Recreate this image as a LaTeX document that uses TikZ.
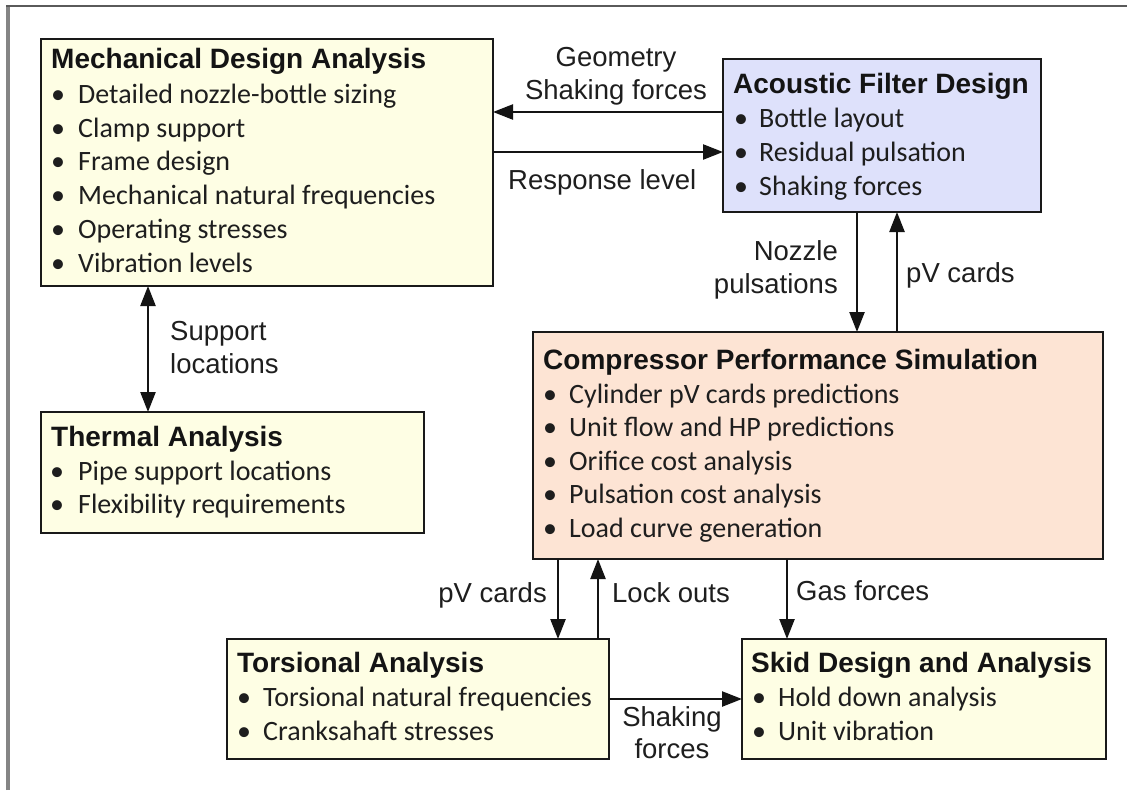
\documentclass[tikz,border=0pt]{standalone}
\usepackage{fontspec}
\setmainfont{Liberation Sans}
\newfontfamily\calib{Carlito}
\usetikzlibrary{arrows.meta}
\definecolor{yel}{HTML}{FEFEE4}
\definecolor{lav}{HTML}{DEE1FB}
\definecolor{peach}{HTML}{FDE4D4}
\definecolor{txt}{HTML}{1E1E1E}
\definecolor{frameL}{HTML}{858585}
\definecolor{frameT}{HTML}{5A5A5A}
\tikzset{
  box/.style={draw=black!90, line width=2.2pt, inner sep=0pt, outer sep=0pt, anchor=north west},
  ttl/.style={anchor=base west, inner sep=0pt, text=black!92, font=\fontsize{28}{34}\selectfont\bfseries},
  itm/.style={anchor=base west, inner sep=0pt, text=txt, font=\calib\fontsize{28}{34}\selectfont},
  dot/.style={anchor=base, inner sep=0pt, text=txt, font=\calib\fontsize{28}{34}\selectfont},
  lbl/.style={inner sep=0pt, text=txt, font=\fontsize{27.5}{33}\selectfont},
  arr/.style={line width=2.4pt, draw=black!92, -{Triangle[length=20pt,width=15pt]}},
  darr/.style={line width=2.4pt, draw=black!92, {Triangle[length=20pt,width=15pt]}-{Triangle[length=20pt,width=15pt]}},
}
\begin{document}
\begin{tikzpicture}[x=1pt,y=-1pt]
\useasboundingbox (0,0) rectangle (1127,790);
\fill[white] (0,0) rectangle (1127,790);
% page frame
\draw[frameL, line width=3.6pt] (8,790) -- (8,5);
\draw[frameT, line width=2pt] (6,6) -- (1127,6);

% ---------- Mechanical Design Analysis ----------
\node[box, fill=yel, minimum width=452pt, minimum height=247pt] (mech) at (41,39) {};
\node[ttl] (mechT) at (51,68) {Mechanical Design Analysis};
\node[dot] (mechD1) at (58,103) {•}; \node[itm] (mech1) at (78,103) {Detailed nozzle-bottle sizing};
\node[dot] (mechD2) at (58,137) {•}; \node[itm] (mech2) at (78,137) {Clamp support};
\node[dot] (mechD3) at (58,170.5) {•}; \node[itm] (mech3) at (78,170.5) {Frame design};
\node[dot] (mechD4) at (58,204.5) {•}; \node[itm] (mech4) at (78,204.5) {Mechanical natural frequencies};
\node[dot] (mechD5) at (58,238) {•}; \node[itm] (mech5) at (78,238) {Operating stresses};
\node[dot] (mechD6) at (58,272) {•}; \node[itm] (mech6) at (78,272) {Vibration levels};

% ---------- Acoustic Filter Design ----------
\node[box, fill=lav, minimum width=318pt, minimum height=153pt] (acou) at (723,59) {};
\node[ttl] (acouT) at (733,93) {Acoustic Filter Design};
\node[dot] (acouD1) at (741,127) {•}; \node[itm] (acou1) at (759,127) {Bottle layout};
\node[dot] (acouD2) at (741,161) {•}; \node[itm] (acou2) at (759,161) {Residual pulsation};
\node[dot] (acouD3) at (741,195) {•}; \node[itm] (acou3) at (759,195) {Shaking forces};

% ---------- Thermal Analysis ----------
\node[box, fill=yel, minimum width=383pt, minimum height=121pt] (therm) at (41,412) {};
\node[ttl] (thermT) at (51,446) {Thermal Analysis};
\node[dot] (thermD1) at (57,480) {•}; \node[itm] (therm1) at (78,480) {Pipe support locations};
\node[dot] (thermD2) at (57,513.5) {•}; \node[itm] (therm2) at (78,513.5) {Flexibility requirements};

% ---------- Compressor Performance Simulation ----------
\node[box, fill=peach, minimum width=570pt, minimum height=227pt] (comp) at (533,332) {};
\node[ttl] (compT) at (543,369) {Compressor Performance Simulation};
\node[dot] (compD1) at (550,403) {•}; \node[itm] (comp1) at (569,403) {Cylinder pV cards predictions};
\node[dot] (compD2) at (550,436.5) {•}; \node[itm] (comp2) at (569,436.5) {Unit flow and HP predictions};
\node[dot] (compD3) at (550,470) {•}; \node[itm] (comp3) at (569,470) {Orifice cost analysis};
\node[dot] (compD4) at (550,503.5) {•}; \node[itm] (comp4) at (569,503.5) {Pulsation cost analysis};
\node[dot] (compD5) at (550,537) {•}; \node[itm] (comp5) at (569,537) {Load curve generation};

% ---------- Torsional Analysis ----------
\node[box, fill=yel, minimum width=382pt, minimum height=120pt] (tors) at (227,639) {};
\node[ttl] (torsT) at (237,672) {Torsional Analysis};
\node[dot] (torsD1) at (244,706) {•}; \node[itm] (tors1) at (263,706) {Torsional natural frequencies};
\node[dot] (torsD2) at (244,740) {•}; \node[itm] (tors2) at (263,740) {Cranksahaft stresses};

% ---------- Skid Design and Analysis ----------
\node[box, fill=yel, minimum width=364pt, minimum height=120pt] (skid) at (742,639) {};
\node[ttl] (skidT) at (751,672) {Skid Design and Analysis};
\node[dot] (skidD1) at (759,706) {•}; \node[itm] (skid1) at (778,706) {Hold down analysis};
\node[dot] (skidD2) at (759,740) {•}; \node[itm] (skid2) at (778,740) {Unit vibration};

% ---------- connectors ----------
\coordinate (rowA) at (0,112);
\coordinate (rowB) at (0,152);
\coordinate (rowC) at (0,699);
\coordinate (colA) at (148,0);
\coordinate (colB) at (857,0);
\coordinate (colC) at (897,0);
\coordinate (colD) at (558,0);
\coordinate (colE) at (598,0);
\coordinate (colF) at (787,0);

\draw[arr] (acou.west |- rowA) -- (mech.east |- rowA);
\draw[arr] (mech.east |- rowB) -- (acou.west |- rowB);
\draw[darr] (mech.south -| colA) -- (therm.north -| colA);
\draw[arr] (acou.south -| colB) -- (comp.north -| colB);
\draw[arr] (comp.north -| colC) -- (acou.south -| colC);
\draw[arr] (comp.south -| colD) -- (tors.north -| colD);
\draw[arr] (tors.north -| colE) -- (comp.south -| colE);
\draw[arr] (comp.south -| colF) -- (skid.north -| colF);
\draw[arr] (tors.east |- rowC) -- (skid.west |- rowC);

% ---------- connector labels ----------
\node[lbl, anchor=base] (lGeo) at (616,66) {Geometry};
\node[lbl, anchor=base] (lShk) at (616,99) {Shaking forces};
\node[lbl, anchor=base west] (lResp) at (508,189) {Response level};
\node[lbl, anchor=base west] (lSup1) at (170,340) {Support};
\node[lbl, anchor=base west] (lSup2) at (170,373) {locations};
\node[lbl, anchor=base east] (lNoz1) at (838,260) {Nozzle};
\node[lbl, anchor=base east] (lNoz2) at (838,293) {pulsations};
\node[lbl, anchor=base west] (lPv1) at (906,282) {pV cards};
\node[lbl, anchor=base east] (lPv2) at (547,602) {pV cards};
\node[lbl, anchor=base west] (lLock) at (612,602) {Lock outs};
\node[lbl, anchor=base west] (lGas) at (796,600) {Gas forces};
\node[lbl, anchor=base] (lShk2) at (672,726) {Shaking};
\node[lbl, anchor=base] (lShk3) at (672,758) {forces};
\end{tikzpicture}
\end{document}
